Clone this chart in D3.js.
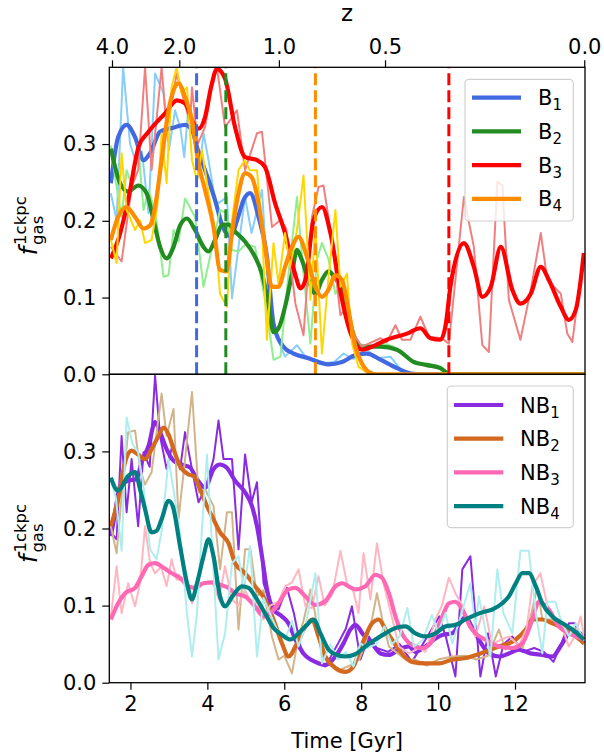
<!DOCTYPE html>
<html><head><meta charset="utf-8">
<script src="https://cdn.jsdelivr.net/npm/d3@7"></script>
<style>body{margin:0;background:#fff}svg{display:block}text{font-family:"DejaVu Sans",sans-serif}</style>
</head><body><svg id="c" width="604" height="756"></svg>
<script>
// ---------- DATA ([time Gyr, f_gas]) ----------
const topNames = ["B1","B2","B3","B4"];
const botNames = ["NB1","NB2","NB3","NB4"];
const zTickLabels = ["4.0","2.0","1.0","0.5","0.0"];
const zTickTimes = [1.52,3.27,5.86,8.62,13.8];
const xTicks = [2,4,6,8,10,12];
const yTicks = [0.0,0.1,0.2,0.3];
const dashTimes = [3.72,4.48,6.81,10.28];
const dashSeries = [0,1,3,2]; // B1, B2, B4, B3

const b1Raw = [[1.49,.236],[1.64,.201],[1.81,.40],[1.99,.30],[2.15,.275],[2.3,.29],[2.47,.21],[2.64,.392],[2.86,.366],[3.0,.292],[3.16,.344],[3.3,.32],[3.4,.283],[3.5,.344],[3.63,.318],[3.77,.257],[3.9,.314],[4.03,.279],[4.2,.227],[4.29,.223],[4.51,.231],[4.64,.099],[4.81,.166],[4.98,.231],[5.15,.184],[5.42,.24],[5.59,.105],[5.76,.053],[6.02,.023],[6.33,.038],[6.55,.023],[6.98,.014],[7.3,.016],[7.54,.027],[7.8,.02],[8.15,.032],[8.4,.021],[8.76,.023],[9.0,.008],[9.28,0],[13.8,0]];
const b1Smooth = [[1.49,.249],[1.68,.309],[1.9,.325],[2.12,.309],[2.34,.279],[2.51,.288],[2.77,.316],[3.16,.322],[3.42,.325],[3.6,.318],[3.73,.296],[3.94,.266],[4.2,.227],[4.4,.192],[4.6,.18],[4.8,.205],[4.94,.227],[5.11,.236],[5.33,.205],[5.55,.153],[5.72,.066],[5.98,.036],[6.24,.027],[6.63,.021],[7.15,.013],[7.5,.016],[7.85,.025],[8.15,.027],[8.5,.019],[8.93,.008],[9.3,.001],[9.6,0],[13.8,0]];
const b2Raw = [[1.49,.298],[1.62,.25],[1.77,.205],[1.9,.266],[2.05,.244],[2.2,.30],[2.34,.214],[2.47,.24],[2.65,.21],[2.86,.127],[2.99,.129],[3.12,.188],[3.25,.173],[3.42,.229],[3.68,.205],[3.9,.114],[4.1,.16],[4.33,.214],[4.5,.21],[4.64,.162],[4.81,.16],[5.0,.17],[5.24,.166],[5.5,.097],[5.72,.019],[5.9,.023],[6.11,.131],[6.33,.231],[6.5,.131],[6.68,.04],[6.85,.15],[6.98,.171],[7.15,.15],[7.33,.105],[7.5,.12],[7.63,.075],[7.85,.04],[8.1,.032],[8.3,.036],[8.6,.04],[8.85,.036],[9.05,.027],[9.37,.014],[9.71,.014],[10.06,.01],[10.32,0],[13.8,0]];
const b2Smooth = [[1.49,.294],[1.73,.249],[1.94,.238],[2.2,.246],[2.42,.236],[2.6,.201],[2.77,.166],[2.94,.151],[3.12,.166],[3.29,.194],[3.47,.203],[3.68,.188],[3.9,.166],[4.03,.16],[4.2,.175],[4.4,.195],[4.55,.195],[4.72,.186],[4.98,.173],[5.24,.153],[5.42,.131],[5.59,.092],[5.72,.055],[5.85,.06],[6.02,.088],[6.2,.131],[6.33,.162],[6.45,.15],[6.63,.123],[6.81,.105],[6.98,.123],[7.15,.134],[7.3,.127],[7.5,.11],[7.67,.075],[7.85,.045],[8.02,.036],[8.5,.036],[8.93,.032],[9.37,.016],[9.71,.012],[10.06,.008],[10.32,0],[13.8,0]];
const b3Raw = [[1.49,.166],[1.77,.147],[2.03,.244],[2.2,.266],[2.38,.40],[2.55,.266],[2.81,.40],[2.94,.322],[3.1,.36],[3.2,.392],[3.55,.327],[3.6,.374],[3.75,.30],[3.94,.322],[4.1,.37],[4.25,.40],[4.46,.322],[4.77,.344],[4.98,.266],[5.29,.314],[5.42,.316],[5.68,.192],[5.9,.201],[6.05,.19],[6.29,.092],[6.5,.051],[6.72,.205],[6.89,.244],[7.02,.246],[7.24,.175],[7.46,.077],[7.63,.088],[7.8,.053],[8.02,.036],[8.28,.042],[8.5,.047],[8.67,.042],[8.89,.064],[9.06,.045],[9.28,.045],[9.54,.075],[9.76,.049],[10.1,.047],[10.28,.04],[10.67,.231],[10.93,.166],[11.15,.038],[11.32,.029],[11.54,.251],[11.67,.246],[11.84,.097],[12.14,.045],[12.41,.11],[12.67,.184],[12.84,.123],[13.19,.105],[13.36,.053],[13.49,.042],[13.79,.158]];
const b3Smooth = [[1.49,.151],[1.68,.175],[1.94,.227],[2.21,.296],[2.47,.316],[2.9,.34],[3.21,.357],[3.42,.353],[3.64,.327],[3.77,.32],[3.94,.335],[4.1,.375],[4.25,.398],[4.46,.385],[4.72,.322],[4.98,.283],[5.29,.279],[5.5,.27],[5.76,.223],[6.02,.184],[6.28,.131],[6.42,.112],[6.55,.123],[6.76,.201],[6.98,.218],[7.2,.184],[7.47,.105],[7.76,.049],[8.02,.032],[8.37,.038],[8.67,.045],[9.19,.053],[9.54,.06],[9.8,.047],[10.06,.045],[10.19,.062],[10.32,.114],[10.67,.171],[10.93,.14],[11.15,.101],[11.37,.114],[11.63,.166],[11.93,.11],[12.14,.092],[12.41,.105],[12.67,.14],[12.88,.123],[13.19,.088],[13.4,.071],[13.58,.084],[13.79,.158]];
const b4Raw = [[1.49,.175],[1.64,.145],[1.77,.288],[1.9,.214],[2.12,.188],[2.25,.2],[2.38,.171],[2.55,.175],[2.7,.22],[2.81,.314],[2.94,.249],[3.07,.374],[3.2,.40],[3.33,.366],[3.47,.374],[3.6,.279],[3.73,.253],[3.86,.292],[4.03,.236],[4.2,.184],[4.33,.105],[4.51,.088],[4.64,.2],[4.81,.266],[4.98,.279],[5.1,.266],[5.29,.266],[5.42,.192],[5.55,.045],[5.72,.171],[5.85,.118],[6.02,.184],[6.15,.14],[6.33,.188],[6.5,.259],[6.68,.097],[6.81,.192],[6.98,.027],[7.15,.127],[7.33,.214],[7.46,.114],[7.63,.131],[7.76,.04],[7.93,.01],[8.2,0],[13.8,0]];
const b4Smooth = [[1.49,.175],[1.68,.205],[1.9,.218],[2.12,.205],[2.34,.19],[2.51,.194],[2.64,.218],[2.81,.279],[2.99,.344],[3.12,.37],[3.25,.379],[3.42,.361],[3.6,.331],[3.77,.275],[3.94,.24],[4.16,.192],[4.33,.136],[4.5,.134],[4.64,.184],[4.81,.236],[4.98,.262],[5.15,.257],[5.33,.223],[5.5,.166],[5.68,.114],[5.85,.114],[6.02,.14],[6.2,.166],[6.37,.179],[6.59,.153],[6.81,.114],[6.98,.101],[7.15,.11],[7.33,.129],[7.5,.123],[7.67,.084],[7.85,.036],[8.02,.014],[8.2,.003],[8.4,0],[13.8,0]];

const nb1Raw = [[1.49,.195],[1.64,.186],[1.77,.32],[1.9,.221],[2.03,.29],[2.2,.203],[2.34,.299],[2.5,.28],[2.64,.398],[2.77,.32],[2.94,.277],[3.1,.31],[3.29,.277],[3.42,.325],[3.6,.277],[3.77,.234],[3.94,.251],[4.16,.29],[4.29,.34],[4.42,.29],[4.55,.29],[4.64,.29],[4.81,.173],[4.98,.296],[5.15,.234],[5.29,.26],[5.46,.129],[5.63,.103],[5.85,.095],[6.07,.123],[6.25,.09],[6.46,.038],[6.7,.03],[7.07,.021],[7.4,.051],[7.6,.07],[7.76,.099],[7.98,.03],[8.2,.06],[8.4,.045],[8.7,.04],[9.0,.05],[9.32,.027],[9.6,.05],[10.03,.086],[10.2,.06],[10.45,.008],[10.63,.147],[10.84,.164],[11.1,.008],[11.3,.064],[11.5,.008],[11.7,.05],[11.93,.06],[12.2,.04],[12.5,.045],[12.75,.04],[13.0,.027],[13.2,.05],[13.4,.077],[13.55,.077],[13.79,.051]];
const nb1Smooth = [[1.49,.19],[1.6,.22],[1.73,.255],[1.94,.262],[2.16,.264],[2.29,.286],[2.47,.307],[2.64,.338],[2.77,.325],[2.94,.303],[3.12,.288],[3.33,.283],[3.55,.279],[3.73,.264],[3.94,.253],[4.16,.277],[4.33,.283],[4.5,.279],[4.72,.262],[4.98,.247],[5.16,.229],[5.29,.203],[5.42,.164],[5.55,.121],[5.72,.095],[5.94,.086],[6.11,.077],[6.29,.056],[6.5,.038],[6.81,.027],[7.07,.023],[7.33,.034],[7.54,.051],[7.72,.069],[7.85,.075],[8.06,.062],[8.28,.051],[8.5,.038],[8.72,.036],[8.98,.043],[9.24,.047],[9.41,.04],[9.67,.047],[9.89,.056],[10.11,.062],[10.37,.064],[10.58,.078],[10.71,.085],[10.9,.07],[11.06,.056],[11.32,.038],[11.6,.034],[11.84,.038],[12.1,.043],[12.4,.038],[12.71,.036],[12.97,.034],[13.23,.051],[13.49,.069],[13.79,.06]];
const nb2Raw = [[1.49,.203],[1.64,.168],[1.77,.242],[1.94,.325],[2.12,.327],[2.25,.277],[2.38,.257],[2.55,.273],[2.81,.375],[2.94,.32],[3.12,.355],[3.25,.212],[3.42,.29],[3.6,.377],[3.77,.247],[3.95,.25],[4.16,.229],[4.33,.147],[4.51,.221],[4.64,.221],[4.81,.069],[4.98,.173],[5.12,.173],[5.29,.112],[5.46,.12],[5.68,.06],[5.85,.03],[6.0,.035],[6.2,.012],[6.37,.06],[6.5,.08],[6.68,.121],[6.8,.09],[6.98,.034],[7.2,.025],[7.45,.017],[7.7,.022],[7.95,.03],[8.11,.051],[8.28,.082],[8.41,.116],[8.55,.082],[8.72,.047],[8.9,.04],[9.15,.03],[9.4,.03],[9.7,.022],[10.0,.03],[10.37,.034],[10.7,.035],[11.0,.03],[11.3,.035],[11.58,.069],[11.75,.043],[11.95,.055],[12.2,.045],[12.45,.095],[12.58,.125],[12.71,.082],[12.95,.082],[13.32,.064],[13.55,.07],[13.79,.049]];
const nb2Smooth = [[1.49,.203],[1.68,.238],[1.86,.286],[2.03,.301],[2.2,.296],[2.38,.29],[2.55,.303],[2.73,.32],[2.86,.331],[2.99,.322],[3.12,.303],[3.29,.281],[3.51,.27],[3.64,.268],[3.81,.251],[3.99,.229],[4.16,.212],[4.33,.195],[4.55,.181],[4.72,.155],[4.98,.142],[5.24,.125],[5.5,.108],[5.72,.082],[5.94,.051],[6.11,.034],[6.33,.051],[6.55,.073],[6.72,.082],[6.89,.06],[7.07,.034],[7.33,.019],[7.59,.014],[7.8,.021],[7.93,.038],[8.11,.06],[8.28,.077],[8.46,.082],[8.63,.069],[8.8,.056],[9.02,.04],[9.32,.027],[9.67,.025],[10.02,.025],[10.37,.03],[10.71,.032],[11.1,.038],[11.58,.047],[12.02,.056],[12.28,.069],[12.45,.082],[12.71,.082],[12.97,.077],[13.32,.069],[13.58,.06],[13.79,.051]];
const nb3Raw = [[1.49,.085],[1.64,.151],[1.77,.09],[1.94,.129],[2.12,.099],[2.25,.13],[2.38,.203],[2.51,.155],[2.64,.142],[2.8,.15],[2.94,.125],[3.07,.16],[3.2,.134],[3.4,.133],[3.6,.103],[3.77,.129],[3.95,.13],[4.15,.128],[4.3,.108],[4.46,.151],[4.64,.108],[4.8,.1],[4.98,.12],[5.15,.102],[5.3,.105],[5.46,.082],[5.63,.1],[5.85,.105],[6.02,.125],[6.2,.13],[6.37,.147],[6.55,.099],[6.72,.097],[6.89,.138],[7.05,.1],[7.25,.115],[7.46,.171],[7.63,.129],[7.8,.118],[7.93,.09],[8.06,.168],[8.24,.108],[8.41,.181],[8.58,.129],[8.75,.095],[8.98,.047],[9.24,.038],[9.5,.045],[9.67,.04],[9.93,.082],[10.1,.1],[10.28,.136],[10.45,.116],[10.63,.1],[10.8,.075],[10.97,.06],[11.2,.099],[11.4,.05],[11.6,.055],[11.85,.06],[12.1,.048],[12.3,.07],[12.45,.125],[12.66,.142],[12.84,.1],[13.0,.082],[13.2,.075],[13.4,.047],[13.55,.06],[13.71,.086],[13.79,.06]];
const nb3Smooth = [[1.49,.082],[1.68,.103],[1.86,.116],[2.12,.123],[2.29,.138],[2.47,.153],[2.64,.155],[2.86,.149],[3.07,.142],[3.29,.136],[3.51,.125],[3.68,.123],[3.9,.129],[4.12,.13],[4.33,.127],[4.55,.123],[4.72,.116],[4.98,.112],[5.24,.099],[5.46,.086],[5.63,.09],[5.85,.103],[6.11,.121],[6.29,.123],[6.55,.112],[6.81,.101],[7.07,.106],[7.33,.125],[7.5,.129],[7.67,.125],[7.85,.121],[8.11,.125],[8.37,.14],[8.54,.136],[8.72,.116],[8.89,.086],[9.06,.064],[9.32,.049],[9.59,.045],[9.8,.051],[10.11,.086],[10.28,.103],[10.45,.105],[10.63,.095],[10.84,.072],[10.97,.064],[11.23,.056],[11.58,.047],[11.93,.045],[12.19,.051],[12.45,.082],[12.62,.105],[12.88,.095],[13.14,.073],[13.4,.064],[13.6,.06],[13.79,.056]];
const nb4Raw = [[1.49,.264],[1.62,.24],[1.77,.171],[1.9,.344],[2.05,.31],[2.2,.299],[2.35,.25],[2.51,.173],[2.68,.16],[2.82,.2],[2.99,.29],[3.12,.25],[3.3,.19],[3.47,.09],[3.6,.034],[3.73,.09],[3.86,.2],[3.99,.296],[4.12,.18],[4.29,.03],[4.46,.064],[4.64,.155],[4.81,.164],[4.95,.12],[5.11,.177],[5.29,.034],[5.46,.11],[5.63,.09],[5.8,.07],[6.02,.056],[6.2,.08],[6.37,.047],[6.55,.073],[6.81,.142],[6.98,.025],[7.2,.05],[7.4,.03],[7.6,.04],[7.8,.021],[7.98,.051],[8.15,.045],[8.4,.05],[8.6,.073],[8.8,.05],[9.0,.06],[9.2,.097],[9.37,.047],[9.6,.055],[9.84,.088],[10.0,.065],[10.19,.09],[10.37,.051],[10.55,.08],[10.84,.129],[10.97,.07],[11.06,.112],[11.36,.034],[11.54,.147],[11.7,.09],[11.93,.064],[12.14,.171],[12.36,.171],[12.54,.09],[12.71,.038],[12.84,.105],[13.05,.105],[13.2,.08],[13.4,.06],[13.58,.077],[13.79,.055]];
const nb4Smooth = [[1.49,.266],[1.68,.249],[1.94,.268],[2.12,.273],[2.25,.251],[2.38,.225],[2.55,.195],[2.68,.197],[2.81,.212],[2.99,.236],[3.1,.229],[3.29,.177],[3.47,.129],[3.6,.108],[3.73,.129],[3.9,.164],[4.03,.186],[4.16,.164],[4.33,.112],[4.46,.099],[4.65,.112],[4.9,.125],[5.07,.123],[5.29,.108],[5.5,.09],[5.72,.071],[5.94,.062],[6.16,.056],[6.37,.064],[6.59,.075],[6.76,.082],[6.94,.064],[7.15,.043],[7.37,.036],[7.59,.034],[7.85,.037],[8.11,.047],[8.37,.056],[8.63,.064],[8.89,.071],[9.15,.073],[9.41,.064],[9.67,.06],[9.93,.064],[10.19,.073],[10.45,.075],[10.71,.082],[10.97,.088],[11.2,.092],[11.41,.095],[11.67,.103],[11.84,.112],[12.02,.129],[12.19,.142],[12.36,.142],[12.54,.125],[12.71,.103],[12.97,.086],[13.23,.077],[13.49,.069],[13.79,.056]];

// ---------- STYLE ----------
const topSeries = [
  {name:"B",sub:"1",raw:b1Raw,smooth:b1Smooth,c:"#4169E1",rc:"#87CEFA"},
  {name:"B",sub:"2",raw:b2Raw,smooth:b2Smooth,c:"#228B22",rc:"#90EE90"},
  {name:"B",sub:"3",raw:b3Raw,smooth:b3Smooth,c:"#FF0000",rc:"#F08080"},
  {name:"B",sub:"4",raw:b4Raw,smooth:b4Smooth,c:"#FF8C00",rc:"#FFD700"}];
const botSeries = [
  {name:"NB",sub:"1",raw:nb1Raw,smooth:nb1Smooth,c:"#8A2BE2",rc:"#8A2BE2"},
  {name:"NB",sub:"2",raw:nb2Raw,smooth:nb2Smooth,c:"#D2691E",rc:"#D2B48C"},
  {name:"NB",sub:"3",raw:nb3Raw,smooth:nb3Smooth,c:"#FF69B4",rc:"#FFB6C1"},
  {name:"NB",sub:"4",raw:nb4Raw,smooth:nb4Smooth,c:"#008080",rc:"#AFEEEE"}];

const svg = d3.select("#c");
const L=109.3, R=585, T1=67.3, B1=374.3, B2=682.7;
const FS=21;
const x = d3.scaleLinear().domain([1.45,13.82]).range([L,R]);
const yTop = d3.scaleLinear().domain([0,0.4]).range([B1,T1]);
const yBot = d3.scaleLinear().domain([0,0.4]).range([B2,B1]);

const defs = svg.append("defs");
defs.append("clipPath").attr("id","clipT").append("rect").attr("x",L).attr("y",T1).attr("width",R-L).attr("height",B1-T1);
defs.append("clipPath").attr("id","clipB").append("rect").attr("x",L).attr("y",B1).attr("width",R-L).attr("height",B2-B1);

function drawPanel(series, y, clip){
  const g = svg.append("g").attr("clip-path",`url(#${clip})`);
  const lr = d3.line().x(d=>x(d[0])).y(d=>y(d[1]));
  const ls = d3.line().x(d=>x(d[0])).y(d=>y(d[1])).curve(d3.curveMonotoneX);
  series.forEach(s=>{
    g.append("path").attr("d",lr(s.raw)).attr("fill","none").attr("stroke",s.rc).attr("stroke-width",2).attr("stroke-linejoin","round");
    g.append("path").attr("d",ls(s.smooth)).attr("fill","none").attr("stroke",s.c).attr("stroke-width",4.2).attr("stroke-linejoin","round");
  });
  return g;
}
const gT = drawPanel(topSeries, yTop, "clipT");
// dashed vertical lines
dashTimes.forEach((t,i)=>{
  gT.append("line").attr("x1",x(t)).attr("x2",x(t)).attr("y1",B1).attr("y2",T1)
    .attr("stroke",topSeries[dashSeries[i]].c).attr("stroke-width",3).attr("stroke-dasharray","12,5");
});
drawPanel(botSeries, yBot, "clipB");

// axes
function styleAxis(g){
  g.selectAll("path").remove();
  g.selectAll("line").attr("stroke","#000").attr("stroke-width",1.2);
  g.selectAll("text").attr("font-size",FS).attr("font-family","DejaVu Sans").attr("fill","#000");
}
[yTop,yBot].forEach(y=>{
  const a = svg.append("g").attr("transform",`translate(${L},0)`)
    .call(d3.axisLeft(y).tickValues(yTicks).tickFormat(d3.format(".1f")).tickSize(7).tickPadding(6));
  styleAxis(a);
});
const ax = svg.append("g").attr("transform",`translate(0,${B2})`)
  .call(d3.axisBottom(x).tickValues(xTicks).tickFormat(d3.format("d")).tickSize(7).tickPadding(6));
styleAxis(ax);
const zScale = d3.scaleOrdinal().domain(zTickLabels).range(zTickTimes.map(x));
const az = svg.append("g").attr("transform",`translate(0,${T1})`)
  .call(d3.axisTop(zScale).tickSize(7).tickPadding(6));
styleAxis(az);

// frames
[[T1,B1],[B1,B2]].forEach(([a,b])=>{
  svg.append("rect").attr("x",L).attr("y",a).attr("width",R-L).attr("height",b-a)
    .attr("fill","none").attr("stroke","#000").attr("stroke-width",1.3);
});

// axis labels
svg.append("text").attr("x",(L+R)/2).attr("y",748).attr("text-anchor","middle").attr("font-size",FS).text("Time [Gyr]");
svg.append("text").attr("x",(L+R)/2).attr("y",21).attr("text-anchor","middle").attr("font-size",23).text("z");

function yLabel(cy){
  const outer = svg.append("g").attr("transform",`translate(37,${cy}) rotate(-90)`);
  const g = outer.append("g");
  const f = g.append("text").attr("font-size",24).attr("font-style","italic").text("f");
  const fw = f.node().getComputedTextLength()+2;
  const sup = g.append("text").attr("x",fw).attr("y",-11).attr("font-size",16.5).text("1ckpc");
  const sub = g.append("text").attr("x",fw).attr("y",6).attr("font-size",16.5).text("gas");
  const tot = fw + Math.max(sup.node().getComputedTextLength(), sub.node().getComputedTextLength());
  g.attr("transform",`translate(${-tot/2},0)`);
}
yLabel((T1+B1)/2 + 5);
yLabel((B1+B2)/2 + 5);

// legends
function legend(series, bx, by, bw, bh, hx0, hx1, tx, hy0, dy){
  const g = svg.append("g");
  g.append("rect").attr("x",bx).attr("y",by).attr("width",bw).attr("height",bh).attr("rx",4)
    .attr("fill","#fff").attr("fill-opacity",0.8).attr("stroke","#d0d0d0").attr("stroke-width",1.2);
  series.forEach((s,i)=>{
    const yy = hy0 + i*dy;
    g.append("line").attr("x1",hx0).attr("x2",hx1).attr("y1",yy).attr("y2",yy).attr("stroke",s.c).attr("stroke-width",4.2);
    const t = g.append("text").attr("x",tx).attr("y",yy+7.5).attr("font-size",FS).text(s.name);
    t.append("tspan").attr("dy",5).attr("font-size",15).text(s.sub);
  });
}
legend(topSeries, 465, 79.3, 108.3, 141.7, 472, 521, 538, 97.7, 33.7);
legend(botSeries, 447.3, 386, 126, 141.7, 454, 503.3, 520, 405, 33.7);
</script></body></html>
